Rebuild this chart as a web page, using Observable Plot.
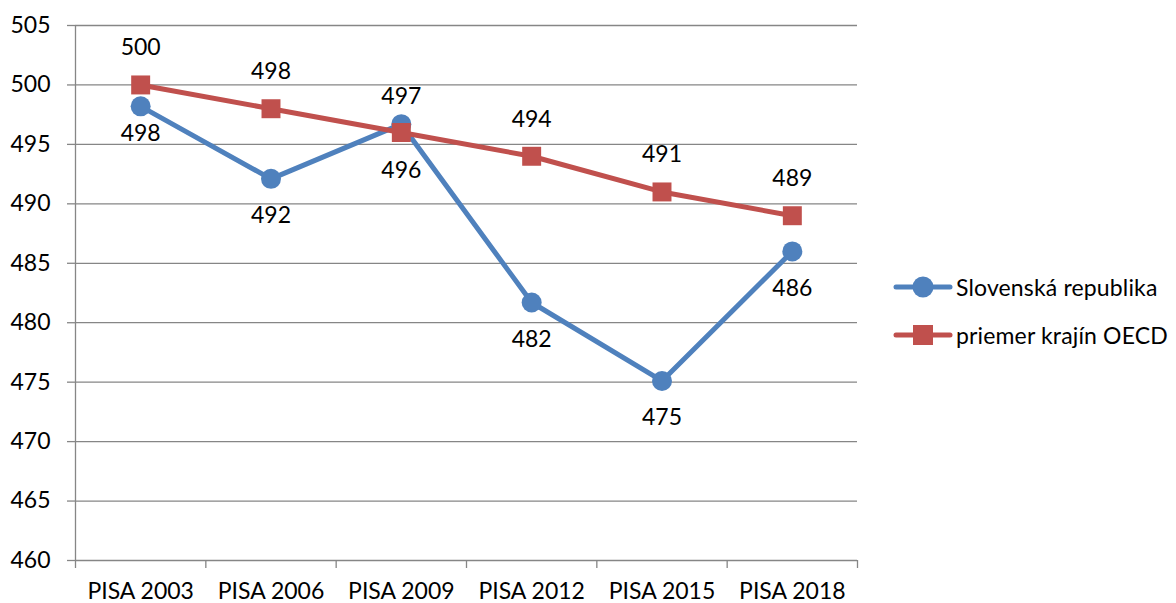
<!DOCTYPE html>
<html>
<head>
<meta charset="utf-8">
<script src="https://cdn.jsdelivr.net/npm/d3@7"></script>
<script src="https://cdn.jsdelivr.net/npm/@observablehq/plot@0.6"></script>
<style>
  html, body { margin: 0; padding: 0; background: #fff; }
  #wrap { position: relative; width: 1176px; height: 603px; font-family: Lato, "Open Sans", sans-serif; }
  #legend { position: absolute; left: 892px; top: 275px; font-size: 23px; letter-spacing: 0.15px; color: #000; }
  .row { display: flex; align-items: center; height: 24px; margin-bottom: 24px; white-space: nowrap; }
  .row svg { margin-right: 2px; }
</style>
</head>
<body>
<div id="wrap"></div>
<script>
const categories = ["PISA 2003", "PISA 2006", "PISA 2009", "PISA 2012", "PISA 2015", "PISA 2018"];
const slovakia = [498.2, 492.1, 496.7, 481.7, 475.1, 486.0];
const oecd = [500, 498, 496, 494, 491, 489];
const slovakiaLabels = ["498", "492", "497", "482", "475", "486"];
const oecdLabels = ["500", "498", "496", "494", "491", "489"];
const yTicks = [460, 465, 470, 475, 480, 485, 490, 495, 500, 505];
const seriesNames = ["Slovenská republika", "priemer krajín OECD"];
const colors = ["#4F81BD", "#C0504D"];

const blue = categories.map((c, i) => ({i, x: i + 0.5, y: slovakia[i], label: slovakiaLabels[i]}));
const red = categories.map((c, i) => ({i, x: i + 0.5, y: oecd[i], label: oecdLabels[i]}));
// label placement: blue mostly below, red mostly above (2009 swapped as in the source)
const blueDy = d => d.i === 2 ? -28 : (d.i === 0 ? 27 : 37);
const redDy = d => d.i === 2 ? 38 : -37;

const grid = "#868686";
const chart = Plot.plot({
  width: 1176,
  height: 603,
  marginLeft: 75,
  marginRight: 319,
  marginTop: 25,
  marginBottom: 43,
  style: {fontFamily: "Lato, 'Open Sans', sans-serif", fontSize: "23px", color: "#000", background: "#fff"},
  x: {type: "linear", domain: [0, categories.length]},
  y: {domain: [460, 505]},
  marks: [
    Plot.gridY(yTicks, {stroke: grid, strokeOpacity: 1, strokeWidth: 1.3}),
    Plot.ruleX([0], {stroke: grid, strokeWidth: 1.3}),
    Plot.axisY(yTicks, {tickSize: 8, tickPadding: 17, stroke: grid, strokeWidth: 1.3, fontSize: 23, fill: "#000", label: null}),
    Plot.axisX(d3.range(0, categories.length + 1), {tickSize: 8, tickFormat: () => "", stroke: grid, strokeWidth: 1.3, label: null}),
    Plot.axisX(blue.map(d => d.x), {tickSize: 0, tickPadding: 22, tickFormat: x => categories[Math.floor(x)], fontSize: 23, fill: "#000", label: null}),
    Plot.line(blue, {x: "x", y: "y", stroke: colors[0], strokeWidth: 5}),
    Plot.dot(blue, {x: "x", y: "y", r: 10, fill: colors[0], stroke: null, symbol: "circle"}),
    Plot.line(red, {x: "x", y: "y", stroke: colors[1], strokeWidth: 5}),
    Plot.dot(red, {x: "x", y: "y", r: 10.7, fill: colors[1], stroke: null, symbol: "square"}),
    ...blue.map(d => Plot.text([d], {x: "x", y: "y", text: "label", dy: blueDy(d), fontSize: 23, fill: "#000"})),
    ...red.map(d => Plot.text([d], {x: "x", y: "y", text: "label", dy: redDy(d), fontSize: 23, fill: "#000"}))
  ]
});

const wrap = document.getElementById("wrap");
wrap.appendChild(chart);

const legend = document.createElement("div");
legend.id = "legend";
seriesNames.forEach((name, k) => {
  const row = document.createElement("div");
  row.className = "row";
  const marker = k === 0
    ? `<circle cx="31" cy="12" r="10.5" fill="${colors[0]}"/>`
    : `<rect x="21" y="2" width="20" height="20" fill="${colors[1]}"/>`;
  row.innerHTML = `<svg width="62" height="24"><line x1="4" x2="58" y1="12" y2="12" stroke="${colors[k]}" stroke-width="5" stroke-linecap="round"/>${marker}</svg><span>${name}</span>`;
  legend.appendChild(row);
});
wrap.appendChild(legend);
</script>
</body>
</html>
